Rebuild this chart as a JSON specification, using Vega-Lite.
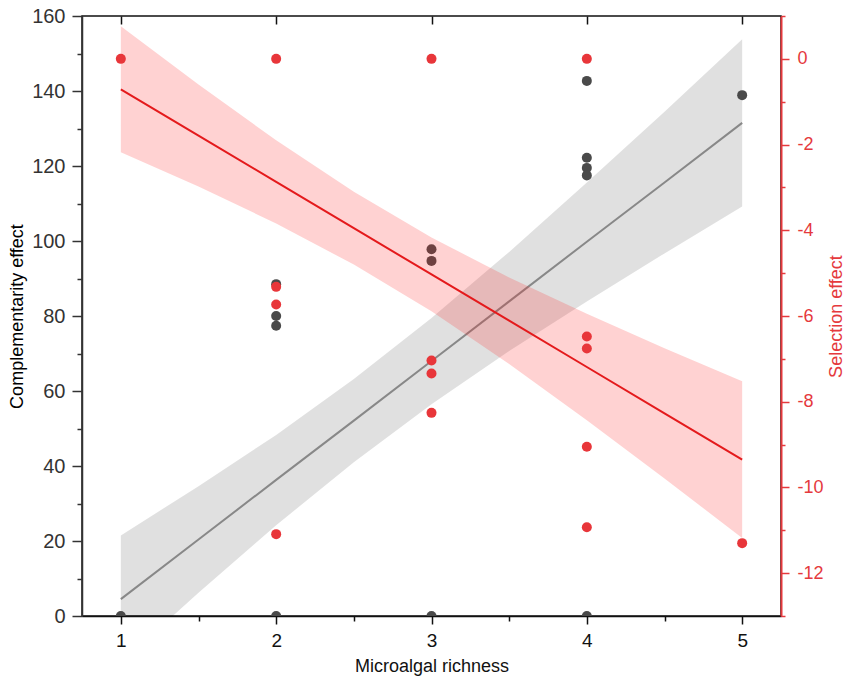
{
  "$schema": "https://vega.github.io/schema/vega-lite/v6.json",
  "width": 699,
  "height": 600,
  "autosize": {"type": "none"},
  "padding": {"left": 82, "top": 16, "right": 70, "bottom": 72},
  "background": "white",
  "config": {
    "view": {"stroke": "#111111", "strokeWidth": 1.5},
    "axis": {"grid": false, "labelFont": "Liberation Sans", "titleFont": "Liberation Sans", "titleFontWeight": "normal"}
  },
  "datasets": {
    "gray_pts": [
      {"richness": 1, "ce": 0},
      {"richness": 2, "ce": 88.5}, {"richness": 2, "ce": 80.0}, {"richness": 2, "ce": 77.4}, {"richness": 2, "ce": 0},
      {"richness": 3, "ce": 97.8}, {"richness": 3, "ce": 94.7}, {"richness": 3, "ce": 0},
      {"richness": 4, "ce": 142.7}, {"richness": 4, "ce": 122.2}, {"richness": 4, "ce": 119.5}, {"richness": 4, "ce": 117.5}, {"richness": 4, "ce": 0},
      {"richness": 5, "ce": 138.9}
    ],
    "red_pts": [
      {"richness": 1, "se": 0},
      {"richness": 2, "se": 0}, {"richness": 2, "se": -5.32}, {"richness": 2, "se": -5.73}, {"richness": 2, "se": -11.09},
      {"richness": 3, "se": 0}, {"richness": 3, "se": -7.04}, {"richness": 3, "se": -7.34}, {"richness": 3, "se": -8.26},
      {"richness": 4, "se": 0}, {"richness": 4, "se": -6.48}, {"richness": 4, "se": -6.76}, {"richness": 4, "se": -9.05}, {"richness": 4, "se": -10.93},
      {"richness": 5, "se": -11.3}
    ],
    "gray_fit": [
      {"richness": 1, "fit": 4.5, "lo": -12.5, "hi": 21.5},
      {"richness": 1.5, "fit": 20.4, "lo": 6.2, "hi": 34.6},
      {"richness": 2, "fit": 36.3, "lo": 24.2, "hi": 48.3},
      {"richness": 2.5, "fit": 52.1, "lo": 41.0, "hi": 63.2},
      {"richness": 3, "fit": 68.0, "lo": 56.5, "hi": 79.5},
      {"richness": 3.5, "fit": 83.9, "lo": 70.7, "hi": 97.1},
      {"richness": 4, "fit": 99.8, "lo": 83.9, "hi": 115.6},
      {"richness": 4.5, "fit": 115.6, "lo": 96.7, "hi": 134.5},
      {"richness": 5, "fit": 131.5, "lo": 109.2, "hi": 153.8}
    ],
    "red_fit": [
      {"richness": 1, "fit": -0.71, "lo": -2.18, "hi": 0.76},
      {"richness": 1.5, "fit": -1.79, "lo": -2.98, "hi": -0.6},
      {"richness": 2, "fit": -2.87, "lo": -3.84, "hi": -1.9},
      {"richness": 2.5, "fit": -3.95, "lo": -4.8, "hi": -3.1},
      {"richness": 3, "fit": -5.03, "lo": -5.89, "hi": -4.17},
      {"richness": 3.5, "fit": -6.11, "lo": -7.12, "hi": -5.1},
      {"richness": 4, "fit": -7.19, "lo": -8.43, "hi": -5.95},
      {"richness": 4.5, "fit": -8.27, "lo": -9.79, "hi": -6.75},
      {"richness": 5, "fit": -9.35, "lo": -11.18, "hi": -7.52}
    ]
  },
  "layer": [
    {
      "encoding": {
        "x": {
          "field": "richness", "type": "quantitative",
          "scale": {"domain": [0.75, 5.25], "nice": false, "zero": false},
          "axis": {
            "orient": "bottom",
            "values": [1, 1.5, 2, 2.5, 3, 3.5, 4, 4.5, 5],
            "labelExpr": "datum.value % 1 === 0 ? '' + datum.value : ''",
            "tickSize": {"condition": {"test": "datum.value % 1 === 0", "value": 8}, "value": 5},
            "tickWidth": 1.5, "tickColor": "#111111",
            "domainColor": "#111111", "domainWidth": 1.5,
            "labelFontSize": 19, "labelColor": "#111111", "labelPadding": 7,
            "title": "Microalgal richness", "titleFontSize": 18, "titleColor": "#111111", "titlePadding": 7
          }
        }
      },
      "layer": [
        {
          "data": {"name": "gray_fit"},
          "mark": {"type": "area", "color": "#000000", "opacity": 0.12, "clip": true},
          "encoding": {
            "y": {"field": "lo", "type": "quantitative", "scale": {"domain": [0, 160], "nice": false},
              "axis": {"orient": "left", "values": [0,10,20,30,40,50,60,70,80,90,100,110,120,130,140,150,160],
                "labelExpr": "datum.value % 20 === 0 ? datum.label : ''",
                "tickSize": {"condition": {"test": "datum.value % 20 === 0", "value": 10}, "value": 5},
                "tickColor": "#333333", "tickWidth": 1.5, "domainColor": "#333333", "domainWidth": 1.5,
                "labelFontSize": 20, "labelColor": "#333333", "labelPadding": 7,
                "title": "Complementarity effect", "titleFontSize": 18, "titleColor": "#000000", "titlePadding": 5}},
            "y2": {"field": "hi"}
          }
        },
        {
          "data": {"name": "gray_fit"},
          "mark": {"type": "line", "color": "#888888", "strokeWidth": 2, "clip": true},
          "encoding": {
            "y": {"field": "fit", "type": "quantitative", "scale": {"domain": [0, 160], "nice": false},
              "axis": {"orient": "left", "values": [0,10,20,30,40,50,60,70,80,90,100,110,120,130,140,150,160],
                "labelExpr": "datum.value % 20 === 0 ? datum.label : ''",
                "tickSize": {"condition": {"test": "datum.value % 20 === 0", "value": 10}, "value": 5},
                "tickColor": "#333333", "tickWidth": 1.5, "domainColor": "#333333", "domainWidth": 1.5,
                "labelFontSize": 20, "labelColor": "#333333", "labelPadding": 7,
                "title": "Complementarity effect", "titleFontSize": 18, "titleColor": "#000000", "titlePadding": 5}}
          }
        },
        {
          "data": {"name": "gray_pts"},
          "mark": {"type": "circle", "color": "#4a4a4a", "opacity": 1, "size": 100, "clip": true},
          "encoding": {
            "y": {"field": "ce", "type": "quantitative", "scale": {"domain": [0, 160], "nice": false},
              "axis": {"orient": "left", "values": [0,10,20,30,40,50,60,70,80,90,100,110,120,130,140,150,160],
                "labelExpr": "datum.value % 20 === 0 ? datum.label : ''",
                "tickSize": {"condition": {"test": "datum.value % 20 === 0", "value": 10}, "value": 5},
                "tickColor": "#333333", "tickWidth": 1.5, "domainColor": "#333333", "domainWidth": 1.5,
                "labelFontSize": 20, "labelColor": "#333333", "labelPadding": 7,
                "title": "Complementarity effect", "titleFontSize": 18, "titleColor": "#000000", "titlePadding": 5}}
          }
        }
      ]
    },
    {
      "encoding": {
        "x": {
          "field": "richness", "type": "quantitative",
          "scale": {"domain": [0.75, 5.25], "nice": false, "zero": false},
          "axis": {
            "orient": "top",
            "values": [1, 2, 3, 4, 5],
            "labels": false,
            "domain": false,
            "offset": -8,
            "tickSize": 8,
            "tickWidth": 1.5, "tickColor": "#111111",
            "title": null
          }
        }
      },
      "layer": [
        {
          "data": {"name": "red_fit"},
          "mark": {"type": "area", "color": "#ff1f1f", "opacity": 0.2, "clip": true},
          "encoding": {
            "y": {"field": "lo", "type": "quantitative", "scale": {"domain": [-13, 1], "nice": false, "zero": false},
              "axis": {"orient": "right", "values": [-13,-12,-11,-10,-9,-8,-7,-6,-5,-4,-3,-2,-1,0,1],
                "labelExpr": "datum.value % 2 === 0 ? (datum.value < 0 ? '-' + abs(datum.value) : '' + datum.value) : ''",
                "tickSize": {"condition": {"test": "datum.value % 2 === 0", "value": 8}, "value": 4},
                "tickColor": "#e5393d", "tickWidth": 1.5, "domainColor": "#e5393d", "domainWidth": 2,
                "labelFontSize": 18, "labelColor": "#e5393d", "labelPadding": 8,
                "title": "Selection effect", "titleFontSize": 18, "titleColor": "#e5393d", "titleAngle": 270, "titlePadding": 22}},
            "y2": {"field": "hi"}
          }
        },
        {
          "data": {"name": "red_fit"},
          "mark": {"type": "line", "color": "#e41a1c", "strokeWidth": 2, "clip": true},
          "encoding": {
            "y": {"field": "fit", "type": "quantitative", "scale": {"domain": [-13, 1], "nice": false, "zero": false},
              "axis": {"orient": "right", "values": [-13,-12,-11,-10,-9,-8,-7,-6,-5,-4,-3,-2,-1,0,1],
                "labelExpr": "datum.value % 2 === 0 ? (datum.value < 0 ? '-' + abs(datum.value) : '' + datum.value) : ''",
                "tickSize": {"condition": {"test": "datum.value % 2 === 0", "value": 8}, "value": 4},
                "tickColor": "#e5393d", "tickWidth": 1.5, "domainColor": "#e5393d", "domainWidth": 2,
                "labelFontSize": 18, "labelColor": "#e5393d", "labelPadding": 8,
                "title": "Selection effect", "titleFontSize": 18, "titleColor": "#e5393d", "titleAngle": 270, "titlePadding": 22}}
          }
        },
        {
          "data": {"name": "red_pts"},
          "mark": {"type": "circle", "color": "#e8363a", "opacity": 1, "size": 100, "clip": true},
          "encoding": {
            "y": {"field": "se", "type": "quantitative", "scale": {"domain": [-13, 1], "nice": false, "zero": false},
              "axis": {"orient": "right", "values": [-13,-12,-11,-10,-9,-8,-7,-6,-5,-4,-3,-2,-1,0,1],
                "labelExpr": "datum.value % 2 === 0 ? (datum.value < 0 ? '-' + abs(datum.value) : '' + datum.value) : ''",
                "tickSize": {"condition": {"test": "datum.value % 2 === 0", "value": 8}, "value": 4},
                "tickColor": "#e5393d", "tickWidth": 1.5, "domainColor": "#e5393d", "domainWidth": 2,
                "labelFontSize": 18, "labelColor": "#e5393d", "labelPadding": 8,
                "title": "Selection effect", "titleFontSize": 18, "titleColor": "#e5393d", "titleAngle": 270, "titlePadding": 22}}
          }
        }
      ]
    }
  ],
  "resolve": {"scale": {"y": "independent"}, "axis": {"x": "independent", "y": "independent"}}
}
